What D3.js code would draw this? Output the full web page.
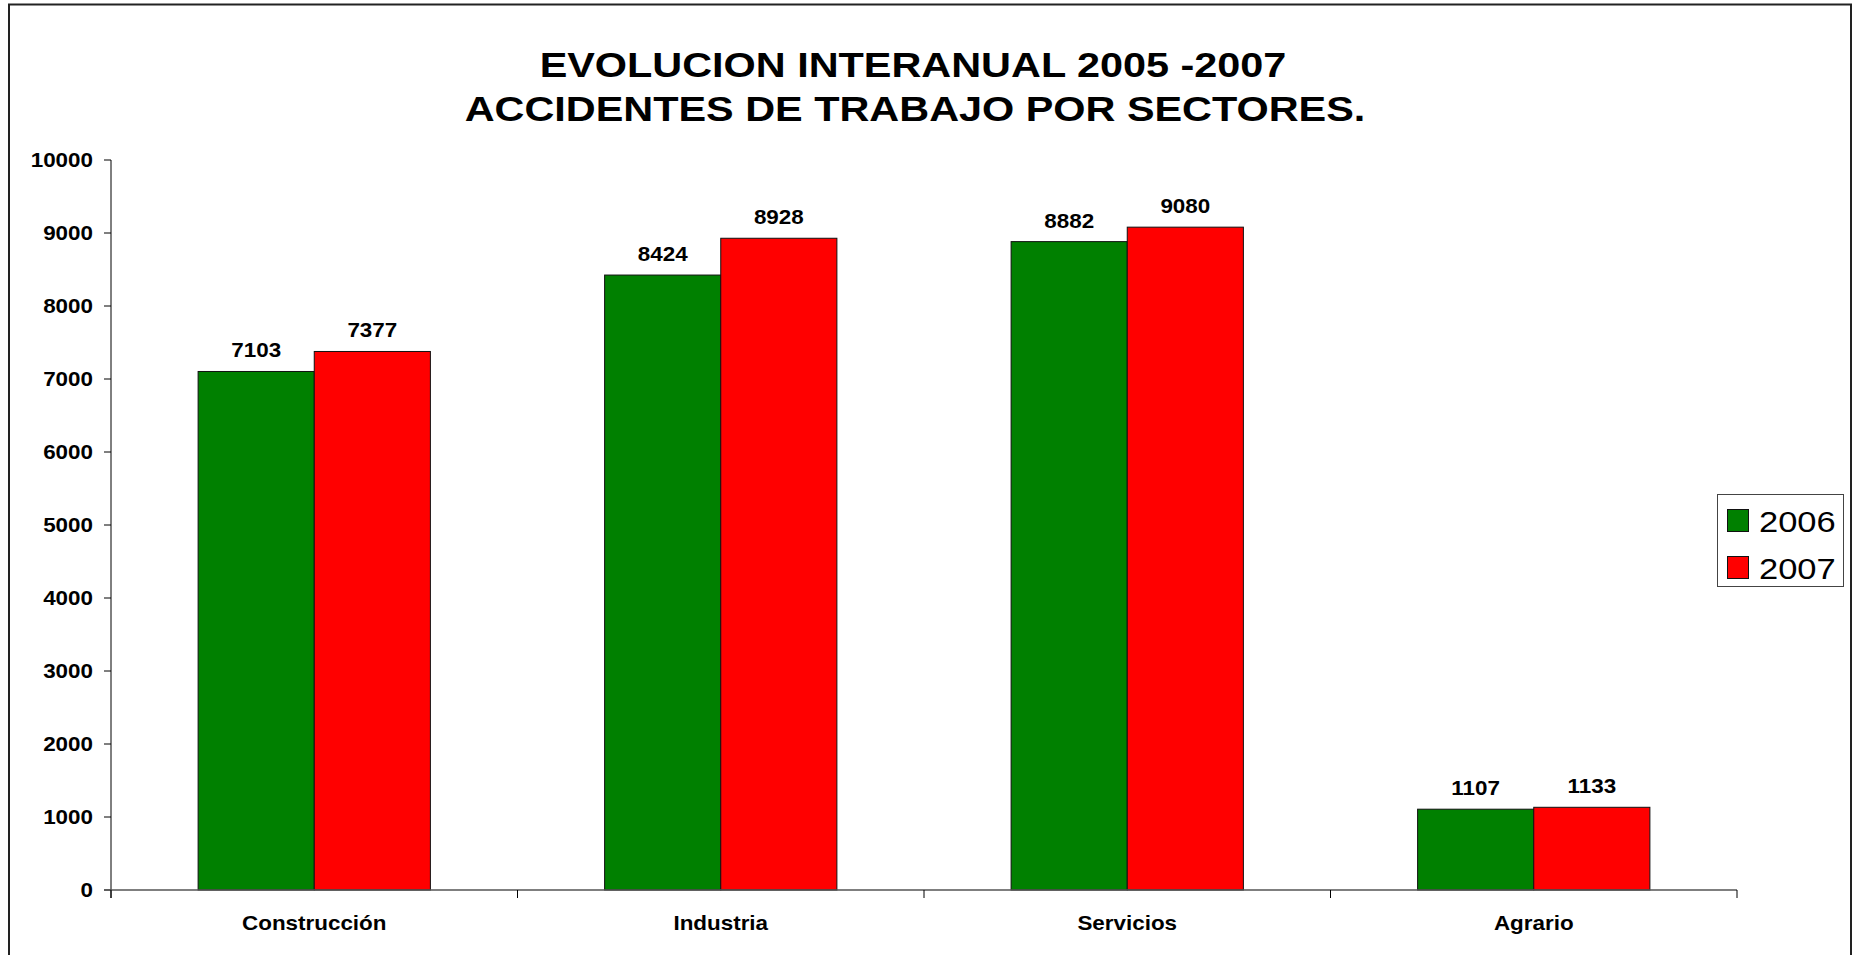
<!DOCTYPE html>
<html>
<head>
<meta charset="utf-8">
<script src="https://d3js.org/d3.v7.min.js"></script>
<style>
html,body{margin:0;padding:0;background:#fff;}
svg{display:block;}
text{font-family:"Liberation Sans",Arial,sans-serif;fill:#000;}
</style>
</head>
<body>
<script>
const categories = ["Construcción", "Industria", "Servicios", "Agrario"];
const seriesNames = ["2006", "2007"];
const values2006 = [7103, 8424, 8882, 1107];
const values2007 = [7377, 8928, 9080, 1133];
const seriesColors = ["#008000", "#FF0000"];
const yTicks = [0, 1000, 2000, 3000, 4000, 5000, 6000, 7000, 8000, 9000, 10000];
const titleLines = ["EVOLUCION INTERANUAL 2005 -2007", "ACCIDENTES DE TRABAJO POR SECTORES."];

const W = 1863, H = 955, SX = 1.15;
const svg = d3.select("body").append("svg").attr("width", W).attr("height", H);

// outer frame
svg.append("rect").attr("x", 9).attr("y", 4.5).attr("width", 1842).attr("height", 970)
  .attr("fill", "none").attr("stroke", "#222").attr("stroke-width", 2);

function txt(g, x, y, s, size, weight, anchor) {
  return g.append("text")
    .attr("transform", `translate(${x},${y}) scale(${SX},1)`)
    .attr("text-anchor", anchor || "middle")
    .style("font-size", size + "px")
    .style("font-weight", weight || "bold")
    .text(s);
}

// title
txt(svg, 913, 77, titleLines[0], 36, "bold");
txt(svg, 915, 121, titleLines[1], 36, "bold");

const plot = {left: 111, right: 1737, top: 160, bottom: 890};
const x0 = d3.scaleBand().domain(categories).range([plot.left, plot.right]).padding(0);
const x1 = d3.scaleBand().domain(seriesNames).range([0, x0.bandwidth()]).paddingInner(0).paddingOuter(0.75);
const y = d3.scaleLinear().domain([0, 10000]).range([plot.bottom, plot.top]);

const data = categories.map((c, i) => ({cat: c, vals: [values2006[i], values2007[i]]}));

// y axis
const yAxis = svg.append("g");
yAxis.append("line").attr("x1", plot.left).attr("x2", plot.left).attr("y1", y(10000)).attr("y2", y(0) + 8)
  .attr("stroke", "#000").attr("stroke-width", 1);
yTicks.forEach(t => {
  yAxis.append("line").attr("x1", plot.left - 7).attr("x2", plot.left).attr("y1", y(t)).attr("y2", y(t))
    .attr("stroke", "#000").attr("stroke-width", 1);
  txt(yAxis, 93, y(t) + 7, String(t), 19.5, "bold", "end");
});

// bars
const groups = svg.selectAll("g.cat").data(data).join("g").attr("class", "cat")
  .attr("transform", d => `translate(${x0(d.cat)},0)`);
groups.selectAll("rect").data(d => d.vals.map((v, j) => ({v, s: seriesNames[j], j})))
  .join("rect")
  .attr("x", d => x1(d.s)).attr("width", x1.bandwidth())
  .attr("y", d => y(d.v)).attr("height", d => y(0) - y(d.v))
  .attr("fill", d => seriesColors[d.j]).attr("stroke", "#111").attr("stroke-width", 1);
groups.each(function(d) {
  const g = d3.select(this);
  d.vals.forEach((v, j) => {
    txt(g, x1(seriesNames[j]) + x1.bandwidth() / 2, y(v) - 14, String(v), 19.5, "bold");
  });
});

// x axis
const xAxis = svg.append("g");
xAxis.append("line").attr("x1", plot.left - 7).attr("x2", plot.right).attr("y1", plot.bottom).attr("y2", plot.bottom)
  .attr("stroke", "#555").attr("stroke-width", 1.5);
const bounds = categories.map(c => x0(c)).concat([plot.right]);
bounds.forEach(b => {
  xAxis.append("line").attr("x1", b).attr("x2", b).attr("y1", plot.bottom).attr("y2", plot.bottom + 8)
    .attr("stroke", "#000").attr("stroke-width", 1);
});
categories.forEach(c => {
  txt(xAxis, x0(c) + x0.bandwidth() / 2, 930, c, 19.5, "bold");
});

// legend
const lg = svg.append("g");
lg.append("rect").attr("x", 1717.5).attr("y", 494.5).attr("width", 126).attr("height", 92)
  .attr("fill", "#fff").attr("stroke", "#444").attr("stroke-width", 1);
seriesNames.forEach((s, j) => {
  const yy = 509 + j * 47;
  lg.append("rect").attr("x", 1727.5).attr("y", yy + 0.5).attr("width", 21).attr("height", 22)
    .attr("fill", seriesColors[j]).attr("stroke", "#111").attr("stroke-width", 1);
  txt(lg, 1759, yy + 23, s, 30, "normal", "start");
});
</script>
</body>
</html>
